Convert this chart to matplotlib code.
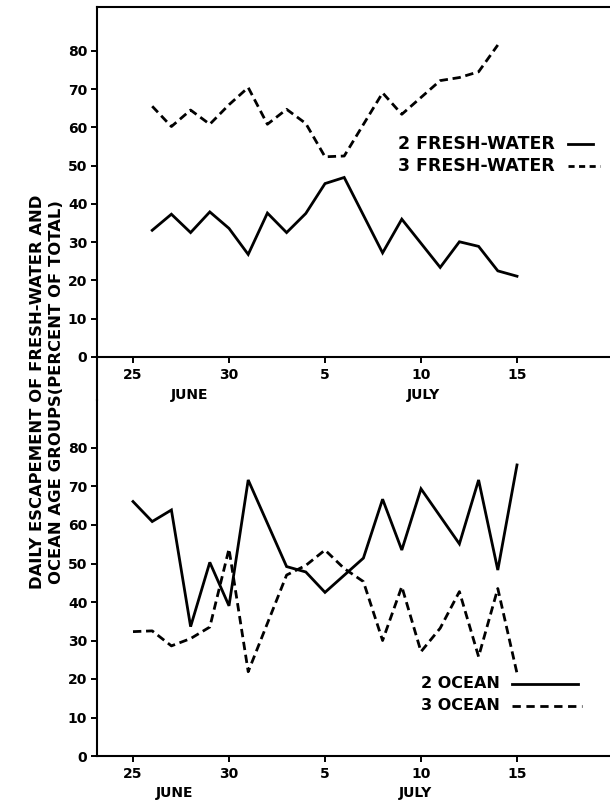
import matplotlib
matplotlib.use("Agg")
import matplotlib.pyplot as plt
from matplotlib.lines import Line2D

plt.rcParams['font.family'] = ['DejaVu Sans']
plt.rcParams['font.weight'] = 'bold'

# Day index: June 25 = 0 ... June 30 = 5, July d = 5 + d
tick_days = [0, 5, 10, 15, 20]
tick_labels = ["25", "30", "5", "10", "15"]
y_ticks = [0, 10, 20, 30, 40, 50, 60, 70, 80]

# Top panel: fresh-water age groups
fw2_days = [1, 2, 3, 4, 5, 6, 7, 8, 9, 10, 11, 13, 14, 16, 17, 18, 19, 20]
fw2_vals = [33.1, 37.3, 32.5, 37.9, 33.6, 26.8, 37.6, 32.5, 37.5, 45.3, 46.9, 27.2, 36.0, 23.4, 30.1, 28.9, 22.5, 21.1]
fw3_days = [1, 2, 3, 4, 5, 6, 7, 8, 9, 10, 11, 13, 14, 16, 17, 18, 19]
fw3_vals = [65.5, 60.2, 64.5, 60.8, 65.9, 70.4, 60.8, 64.7, 61.0, 52.3, 52.5, 69.0, 63.4, 72.2, 73.0, 74.5, 81.5]

# Bottom panel: ocean age groups
oc2_days = [0, 1, 2, 3, 4, 5, 6, 8, 9, 10, 12, 13, 14, 15, 17, 18, 19, 20]
oc2_vals = [66.1, 60.9, 63.9, 33.6, 50.3, 39.0, 71.7, 49.2, 47.8, 42.5, 51.4, 66.7, 53.5, 69.4, 55.1, 71.7, 48.3, 75.6]
oc3_days = [0, 1, 2, 3, 4, 5, 6, 8, 9, 10, 11, 12, 13, 14, 15, 16, 17, 18, 19, 20]
oc3_vals = [32.3, 32.5, 28.6, 30.5, 33.5, 53.8, 21.9, 47.0, 49.5, 53.5, 48.7, 45.3, 30.0, 44.0, 27.1, 33.2, 42.7, 25.8, 43.5, 21.5]

W, H = 610, 801
fig = plt.figure(figsize=(W / 100, H / 100), dpi=100)

def fx(px):
    return px / W

def fy(py):
    return 1 - py / H

x_left_px, x_right_px = 97, 610
x0 = -1.875
x1 = x0 + (x_right_px - x_left_px) / 19.2

lw_axis = 1.5
lw_line = 2.0
dash = (3.0, 1.7)

ax1 = fig.add_axes([fx(x_left_px), fy(357), fx(x_right_px) - fx(x_left_px), fy(7) - fy(357)])
ax2 = fig.add_axes([fx(x_left_px), fy(756), fx(x_right_px) - fx(x_left_px), fy(400) - fy(756)])

ax1.plot(fw2_days, fw2_vals, color='black', lw=lw_line, solid_joinstyle='miter')
ax1.plot(fw3_days, fw3_vals, color='black', lw=lw_line, linestyle=(0, dash))
ax1.set_ylim(0, (356.7 - 7) / 3.825)

ax2.plot(oc2_days, oc2_vals, color='black', lw=lw_line, solid_joinstyle='miter')
ax2.plot(oc3_days, oc3_vals, color='black', lw=lw_line, linestyle=(0, dash))
ax2.set_ylim(0, (756 - 400) / 3.85)

for ax, top in ((ax1, True), (ax2, False)):
    ax.set_xlim(x0, x1)
    ax.set_xticks(tick_days)
    ax.set_xticklabels(tick_labels)
    ax.set_yticks(y_ticks)
    ax.set_yticklabels([str(v) for v in y_ticks])
    ax.spines['right'].set_visible(False)
    ax.spines['top'].set_visible(top)
    for s in ax.spines.values():
        s.set_linewidth(lw_axis)
    ax.tick_params(direction='out', length=4, width=1.4, labelsize=10, pad=3)
    ax.tick_params(axis='x', pad=4)
    for lab in ax.get_xticklabels() + ax.get_yticklabels():
        lab.set_fontweight('bold')

# continuous left spine between panels
fig.add_artist(Line2D([fx(x_left_px), fx(x_left_px)], [fy(357), fy(400)], color='black', lw=lw_axis))

# month labels
for (px, py, t) in [(190, 395, "JUNE"), (423, 395, "JULY"), (175, 793, "JUNE"), (415, 793, "JULY")]:
    fig.text(fx(px), fy(py), t, ha='center', va='center', fontsize=10, fontweight='bold')

# y label
fig.text(fx(38), fy(392), "DAILY ESCAPEMENT OF FRESH-WATER AND", rotation=90, ha='center', va='center',
         fontsize=11.8, fontweight='bold')
fig.text(fx(57), fy(392), "OCEAN AGE GROUPS(PERCENT OF TOTAL)", rotation=90, ha='center', va='center',
         fontsize=11.8, fontweight='bold')

# legends
leg = [
    (398, 144, "2 FRESH-WATER", 568, 593, '-', 12.5),
    (398, 166, "3 FRESH-WATER", 568, 600, (0, (2.2, 1.6)), 12.5),
    (421, 684, "2 OCEAN", 512, 578, '-', 11.5),
    (421, 706, "3 OCEAN", 512, 582, (0, (3.0, 2.0)), 11.5),
]
for (tx, ty, t, lx0, lx1, ls, fs) in leg:
    fig.text(fx(tx), fy(ty), t, ha='left', va='center', fontsize=fs, fontweight='bold')
    fig.add_artist(Line2D([fx(lx0), fx(lx1)], [fy(ty), fy(ty)], color='black', lw=lw_line, linestyle=ls))

fig.savefig("out.png", dpi=100)
